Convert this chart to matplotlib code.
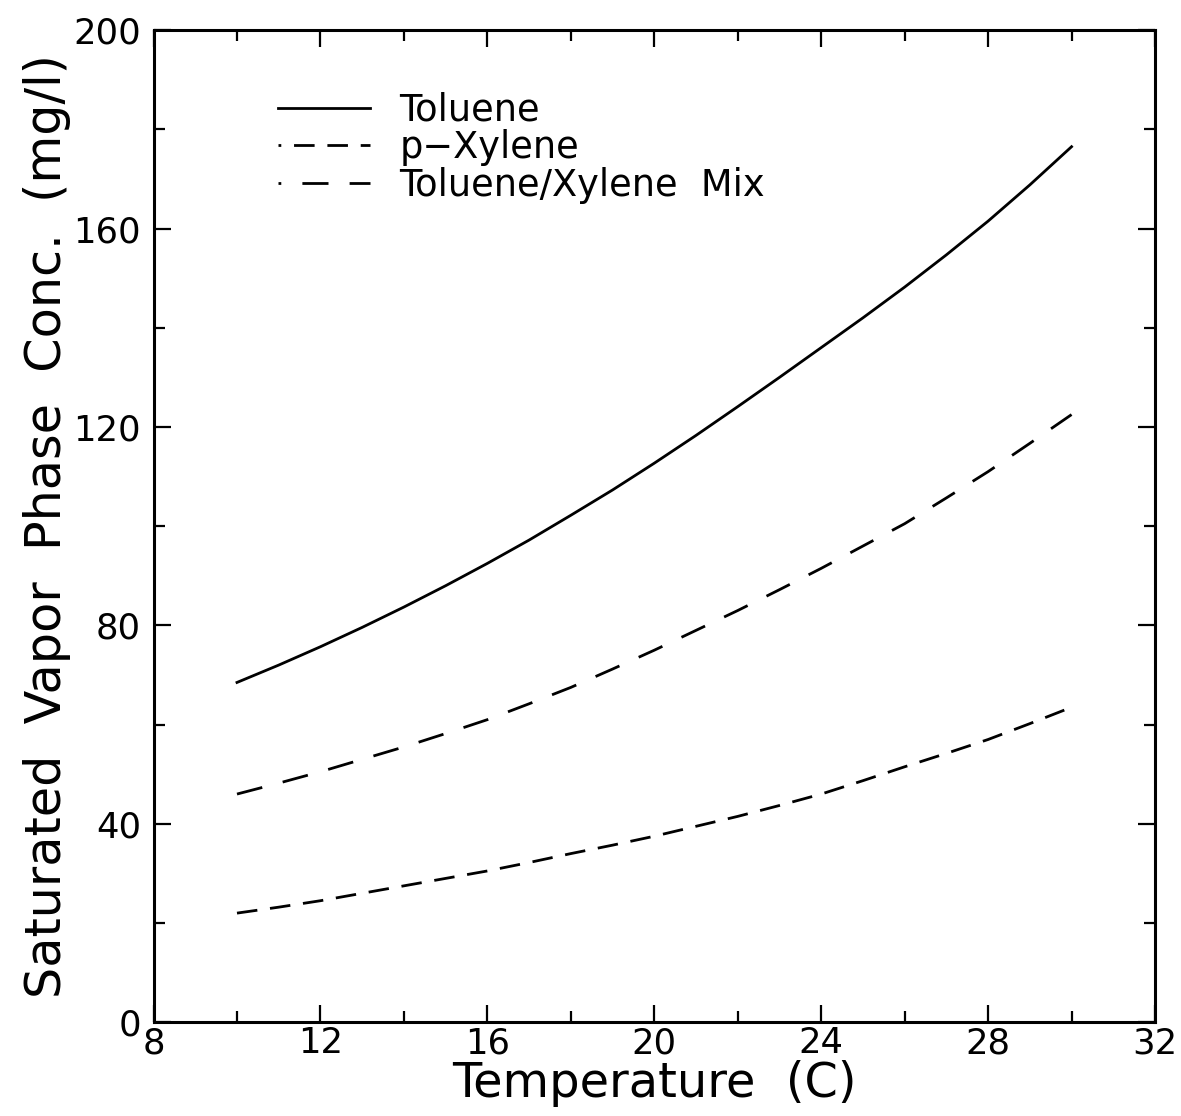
import numpy as np
import matplotlib
matplotlib.use("Agg")
import matplotlib.pyplot as plt
from matplotlib.lines import Line2D
from matplotlib.ticker import MultipleLocator

# ================= DATA =================
TEMP_C = [10, 11, 12, 13, 14, 15, 16, 17, 18, 19, 20,
          21, 22, 23, 24, 25, 26, 27, 28, 29, 30]
TOLUENE = [68.5, 72.0, 75.7, 79.6, 83.7, 88.0, 92.5, 97.2, 102.2, 107.3, 112.7,
           118.3, 124.1, 130.0, 136.0, 142.0, 148.2, 154.7, 161.5, 168.8, 176.5]
P_XYLENE = [22.0, 23.2, 24.5, 26.0, 27.5, 29.0, 30.5, 32.2, 34.0, 35.7, 37.5,
            39.5, 41.5, 43.7, 46.0, 48.7, 51.5, 54.2, 57.0, 60.2, 63.5]
MIX = [46.0, 48.2, 50.5, 53.0, 55.5, 58.2, 61.0, 64.2, 67.5, 71.2, 75.0,
       79.0, 83.0, 87.2, 91.5, 96.0, 100.5, 105.7, 111.0, 116.7, 122.5]

LABELS = ["Toluene", "p\u2212Xylene", "Toluene/Xylene  Mix"]

# ================= SETTINGS =================
FIGSIZE = (11.81, 11.16)
DPI = 100
LW = 2.0
TICK_FS = 25.5
XLABEL_FS = 34.5
YLABEL_FS = 35.5
LEGEND_FS = 26.5

# dash patterns in units of line width
DASH_XYL = (7.4, 4.6)
DASH_MIX = (9.4, 7.6)

plt.rcParams["font.family"] = ["DejaVu Sans"]

fig = plt.figure(figsize=FIGSIZE, dpi=DPI)
ax = fig.add_axes([0.130, 0.084, 0.848, 0.889])

ax.plot(TEMP_C, TOLUENE, color="black", lw=LW, linestyle="-")
ax.plot(TEMP_C, P_XYLENE, color="black", lw=LW, linestyle=(0, DASH_XYL))
ax.plot(TEMP_C, MIX, color="black", lw=LW, linestyle=(0, DASH_MIX))

ax.set_xlim(8, 32)
ax.set_ylim(0, 200)
ax.xaxis.set_major_locator(MultipleLocator(4))
ax.xaxis.set_minor_locator(MultipleLocator(2))
ax.yaxis.set_major_locator(MultipleLocator(40))
ax.yaxis.set_minor_locator(MultipleLocator(20))

ax.tick_params(which="both", direction="in", top=True, right=True,
               labelsize=TICK_FS, width=1.6)
ax.tick_params(which="major", length=12)
ax.tick_params(which="minor", length=8)
ax.tick_params(axis="x", pad=3)
ax.tick_params(axis="y", pad=9)
for s in ax.spines.values():
    s.set_linewidth(2.2)

ax.set_xlabel("Temperature  (C)", fontsize=XLABEL_FS, labelpad=0)
ax.set_ylabel("Saturated  Vapor  Phase  Conc.  (mg/l)", fontsize=YLABEL_FS, labelpad=2)

# legend keys start with the tail of a dash, like the plotter's output
handles = [
    Line2D([0], [0], color="black", lw=LW, linestyle="-"),
    Line2D([0], [0], color="black", lw=LW, linestyle=(DASH_XYL[0] - 1.0, DASH_XYL)),
    Line2D([0], [0], color="black", lw=LW, linestyle=(DASH_MIX[0] - 1.0, DASH_MIX)),
]
ax.legend(handles, LABELS, loc="upper left", bbox_to_anchor=(0.124, 0.938),
          frameon=False, fontsize=LEGEND_FS, handlelength=2.5, handletextpad=0.8,
          labelspacing=0.02, borderaxespad=0, borderpad=0)

fig.savefig("out.png", dpi=DPI, facecolor="white")
